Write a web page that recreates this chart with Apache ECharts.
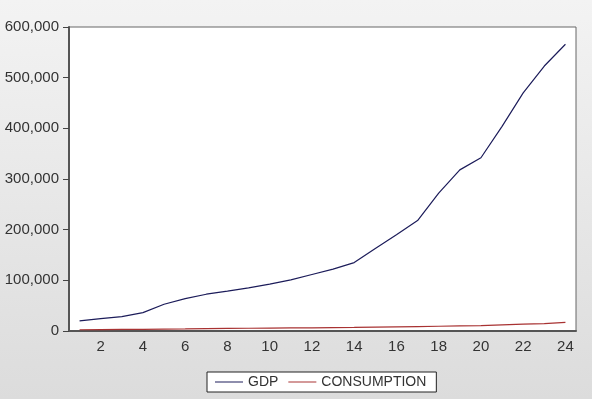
<!DOCTYPE html>
<html>
<head>
<meta charset="utf-8">
<script src="https://cdn.jsdelivr.net/npm/echarts@6/dist/echarts.min.js"></script>
<style>
  html, body { margin: 0; padding: 0; }
  #main { width: 592px; height: 399px; }
</style>
</head>
<body>
<div id="main"></div>
<script>
const periods = ["1","2","3","4","5","6","7","8","9","10","11","12","13","14","15","16","17","18","19","20","21","22","23","24"];
const gdp = [19800, 24400, 28300, 36200, 52800, 64000, 72600, 78600, 85000, 92400, 101000, 111500,
  122000, 135000, 163000, 190000, 218000, 272000, 318000, 342000, 404000, 470000, 523000, 566000];
const consumption = [2500, 2800, 3100, 3400, 3700, 4000, 4600, 5000, 5400, 5700, 6000, 6300,
  6600, 7000, 7600, 8200, 8800, 9400, 10000, 10500, 12000, 13500, 14500, 17000];
const yTicks = [0, 100000, 200000, 300000, 400000, 500000, 600000];

const chartDom = document.getElementById("main");
const myChart = echarts.init(chartDom);

const axisText = { color: "#333", fontFamily: "Liberation Sans", fontSize: 15 };

const option = {
  animation: false,
  backgroundColor: {
    type: "linear", x: 0, y: 0, x2: 0, y2: 1,
    colorStops: [
      { offset: 0, color: "#f3f3f3" },
      { offset: 1, color: "#dcdcdc" },
    ],
  },
  grid: {
    left: 69, top: 27, right: 16, bottom: 68,
    show: true,
    backgroundColor: "#fff",
    borderColor: "#666",
    borderWidth: 1,
  },
  legend: {
    left: 207, top: 372,
    padding: [3, 10, 3, 8],
    backgroundColor: "#fff",
    borderColor: "#222",
    borderWidth: 1,
    borderRadius: 0,
    itemGap: 10,
    itemWidth: 28,
    itemHeight: 1,
    icon: "rect",
    textStyle: { color: "#333", fontFamily: "Liberation Sans", fontSize: 14 },
    data: ["GDP", "CONSUMPTION"],
  },
  xAxis: {
    type: "category",
    data: periods,
    boundaryGap: true,
    axisLine: { lineStyle: { color: "#555", width: 2 } },
    axisTick: { interval: 0, length: 6, lineStyle: { color: "#444" } },
    axisLabel: Object.assign({ interval: (i) => i % 2 === 1, margin: 8 }, axisText),
    splitLine: { show: false },
  },
  yAxis: {
    type: "value",
    min: yTicks[0],
    max: yTicks[yTicks.length - 1],
    interval: 100000,
    axisLine: { show: true, lineStyle: { color: "#555", width: 2 } },
    axisTick: { show: true, length: 6, lineStyle: { color: "#444" } },
    axisLabel: Object.assign({
      margin: 10,
      formatter: (v) => v.toLocaleString("en-US"),
    }, axisText),
    splitLine: { show: false },
  },
  series: [
    {
      name: "GDP",
      type: "line",
      data: gdp,
      showSymbol: false,
      itemStyle: { color: "#1c1c5a" },
      lineStyle: { color: "#1c1c5a", width: 1.2 },
    },
    {
      name: "CONSUMPTION",
      type: "line",
      data: consumption,
      showSymbol: false,
      itemStyle: { color: "#a83232" },
      lineStyle: { color: "#a83232", width: 1.2 },
    },
  ],
};

myChart.setOption(option);
</script>
</body>
</html>
